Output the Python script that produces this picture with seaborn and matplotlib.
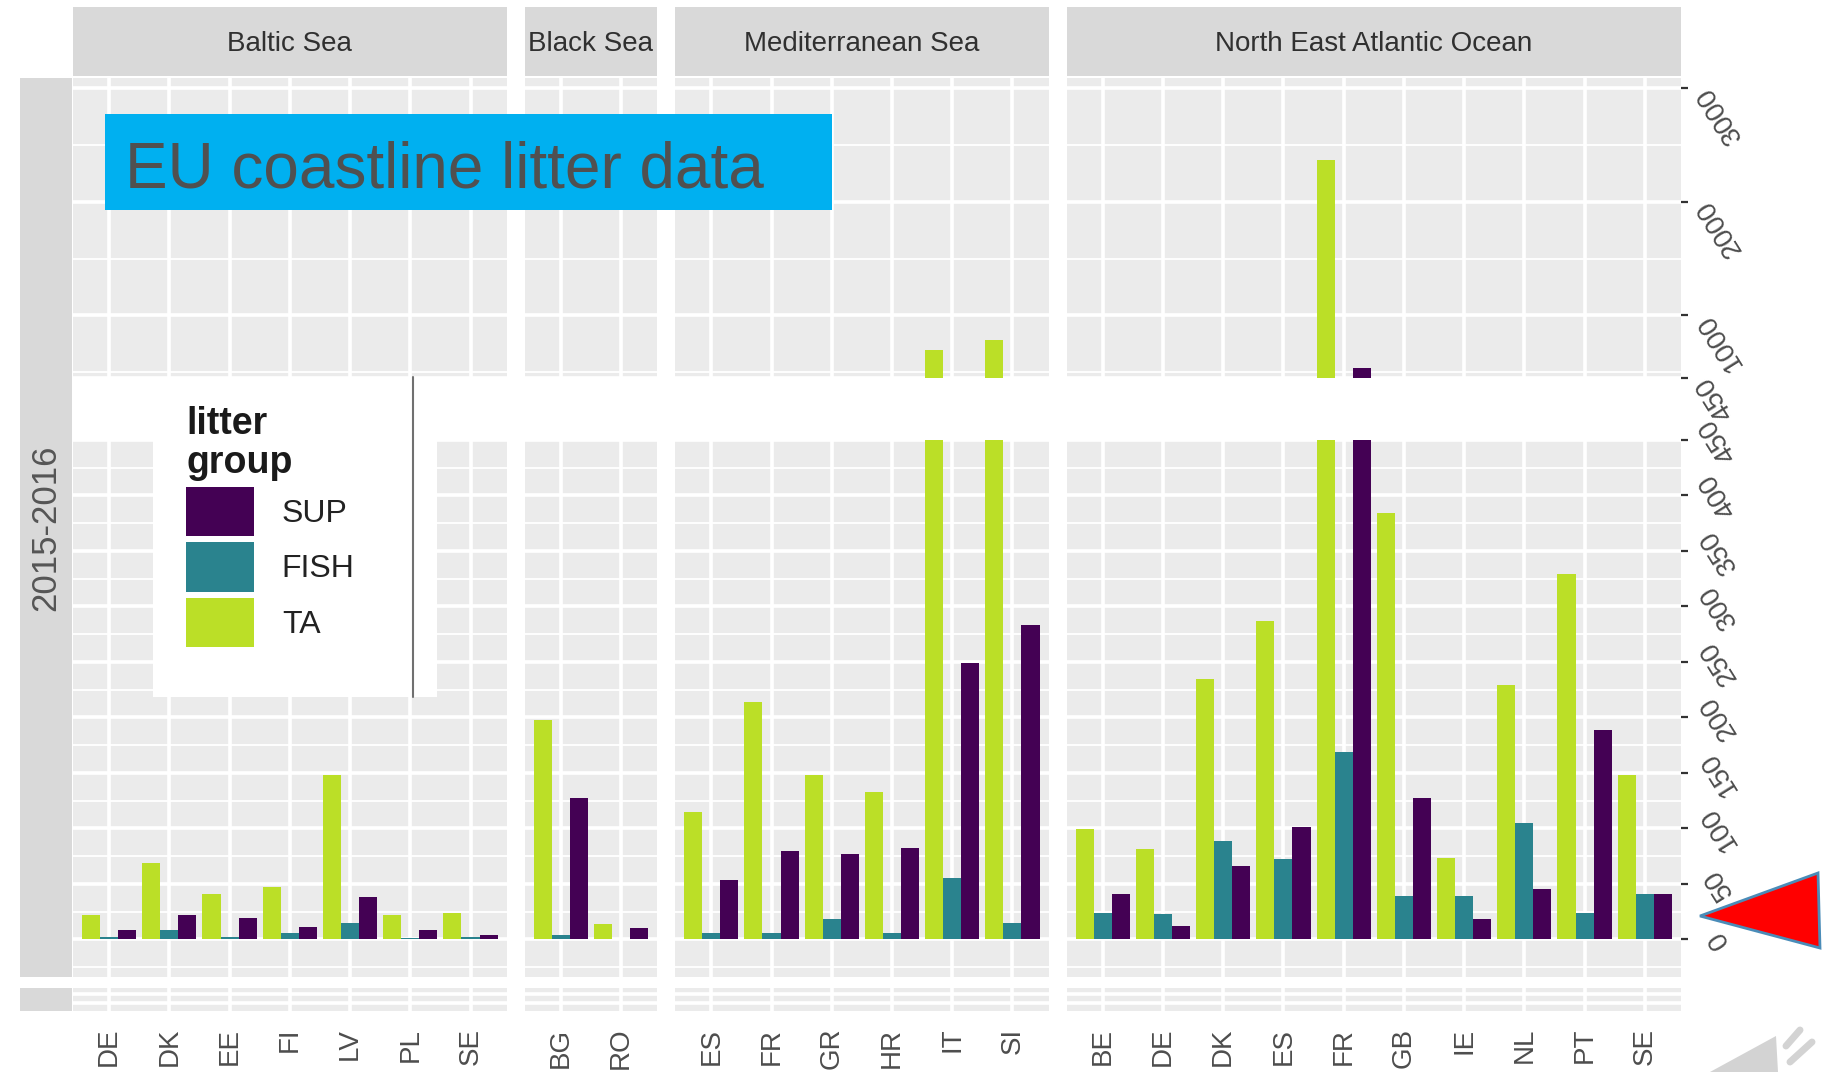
import matplotlib.pyplot as plt
import matplotlib.patches as mpatches
import pandas as pd
import seaborn as sns

# values, one list per sea and litter group
groups = ["TA", "FISH", "SUP"]
legend_order = ["SUP", "FISH", "TA"]
seas = ["Baltic Sea", "Black Sea", "Mediterranean Sea", "North East Atlantic Ocean"]
period = "2015-2016"

baltic_countries = ["DE", "DK", "EE", "FI", "LV", "PL", "SE"]
baltic_ta = [22, 69, 41, 47, 148, 22, 24]
baltic_fish = [2, 8, 2, 6, 15, 1, 2]
baltic_sup = [8, 22, 19, 11, 38, 8, 4]

black_countries = ["BG", "RO"]
black_ta = [198, 14]
black_fish = [4, 0]
black_sup = [127, 10]

med_countries = ["ES", "FR", "GR", "HR", "IT", "SI"]
med_ta = [115, 214, 148, 133, 700, 785]
med_fish = [6, 6, 18, 6, 55, 15]
med_sup = [53, 80, 77, 82, 249, 283]

nea_countries = ["BE", "DE", "DK", "ES", "FR", "GB", "IE", "NL", "PT", "SE"]
nea_ta = [99, 81, 235, 287, 2370, 384, 73, 229, 329, 148]
nea_fish = [24, 23, 89, 72, 169, 39, 39, 105, 24, 41]
nea_sup = [41, 12, 66, 101, 540, 127, 18, 45, 189, 41]

upper_ticks = [450, 1000, 2000, 3000]
lower_ticks = [0, 50, 100, 150, 200, 250, 300, 350, 400, 450]

palette = {"SUP": "#440154", "FISH": "#2A838E", "TA": "#BBDF27"}

sea_data = [
    (seas[0], baltic_countries, baltic_ta, baltic_fish, baltic_sup),
    (seas[1], black_countries, black_ta, black_fish, black_sup),
    (seas[2], med_countries, med_ta, med_fish, med_sup),
    (seas[3], nea_countries, nea_ta, nea_fish, nea_sup),
]

frames = []
for sea, countries, ta, fish, sup in sea_data:
    for g, vals in zip(groups, [ta, fish, sup]):
        frames.append(pd.DataFrame({"sea": sea, "country": countries, "group": g, "value": vals}))
df = pd.concat(frames, ignore_index=True)

sns.set_theme(style="darkgrid", rc={"axes.facecolor": "#EBEBEB", "grid.color": "white"})
plt.rcParams["font.family"] = ["Liberation Sans", "DejaVu Sans"]

W, H = 1823, 1072
fig = plt.figure(figsize=(W / 100, H / 100), dpi=100)


def box(x0, y0, x1, y1):
    # pixel box (top-left origin) -> figure fraction rect
    return [x0 / W, 1 - y1 / H, (x1 - x0) / W, (y1 - y0) / H]


unit, gap, x = 60.23, 18, 73
STRIP = (7, 76)
UPPER = (78, 378)
LOWER = (440, 977)
BAND = (988, 1011)

for i, (sea, countries, ta, fish, sup) in enumerate(sea_data):
    n = len(countries)
    x0, x1 = x, x + (n - 1 + 1.2) * unit
    x = x1 + gap
    last = i == len(sea_data) - 1
    sub = df[df["sea"] == sea]

    ax_st = fig.add_axes(box(x0, STRIP[0], x1, STRIP[1]))
    ax_st.set_facecolor("#D9D9D9")
    ax_st.set_xticks([])
    ax_st.set_yticks([])
    for s in ax_st.spines.values():
        s.set_visible(False)
    ax_st.text(0.5, 0.47, sea, transform=ax_st.transAxes, ha="center", va="center",
               fontsize=20, color="#303030")

    ax_up = fig.add_axes(box(x0, UPPER[0], x1, UPPER[1]))
    ax_lo = fig.add_axes(box(x0, LOWER[0], x1, LOWER[1]))
    ax_bd = fig.add_axes(box(x0, BAND[0], x1, BAND[1]))

    for ax in (ax_up, ax_lo):
        sns.barplot(data=sub, x="country", y="value", hue="group", order=countries,
                    hue_order=groups, palette=palette, width=0.9, saturation=1,
                    linewidth=0, errorbar=None, legend=False, ax=ax)
        ax.set(xlabel="", ylabel="")

    ax_up.set_ylim(450, 3087)
    ax_up.set_yticks([1500, 2500, 500], minor=True)
    ax_lo.set_ylim(-34, 450)
    ax_lo.set_yticks([-25, 25, 75, 125, 175, 225, 275, 325, 375, 425], minor=True)
    ax_bd.set_ylim(0, 1)
    ax_bd.set_yticks([0.35, 0.75])
    ax_bd.tick_params(axis="y", length=0, labelleft=False)

    for ax, ticks, ha, pad in ((ax_up, upper_ticks, "right", 11), (ax_lo, lower_ticks, "center", 22)):
        if last:
            ax.yaxis.tick_right()
            ax.set_yticks(ticks, labels=[str(t) for t in ticks], rotation=122,
                          rotation_mode="anchor", ha=ha, va="center",
                          fontsize=20, color="#4D4D4D")
            ax.tick_params(axis="y", which="major", length=5, width=1.6,
                           color="#333333", pad=pad)
        else:
            ax.set_yticks(ticks)
            ax.tick_params(axis="y", which="major", length=0, labelleft=False)
        ax.tick_params(axis="y", which="minor", length=0)
        ax.grid(True, axis="y", which="minor", color="white", lw=1.3)

    for ax in (ax_up, ax_lo, ax_bd):
        ax.set_xlim(-0.6, n - 0.4)
        ax.set_xticks(range(n))
        ax.grid(True, axis="x", which="major", color="white", lw=2.6)
        ax.grid(True, axis="y", which="major", color="white", lw=2.6)
        ax.set_axisbelow(True)
        for s in ax.spines.values():
            s.set_visible(False)

    for ax in (ax_up, ax_lo):
        ax.tick_params(axis="x", length=0, labelbottom=False)
    ax_bd.set_xticks(range(n), labels=countries, rotation=90, fontsize=20, color="#4D4D4D")
    ax_bd.tick_params(axis="x", length=5, width=1.6, color="#333333", pad=7)

# row strip on the left
ax_row = fig.add_axes(box(20, UPPER[0], 72, LOWER[1]))
ax_row.set_facecolor("#D9D9D9")
ax_row.set_xticks([])
ax_row.set_yticks([])
ax_row.text(0.5, 0.5, period, transform=ax_row.transAxes, rotation=90, ha="center",
            va="center", fontsize=25, color="#555555")
ax_row2 = fig.add_axes(box(20, BAND[0], 72, BAND[1]))
ax_row2.set_facecolor("#D9D9D9")
ax_row2.set_xticks([])
ax_row2.set_yticks([])
for a in (ax_row, ax_row2):
    for s in a.spines.values():
        s.set_visible(False)

# overlay: title banner, legend backdrop, pointer triangle
ov = fig.add_axes([0, 0, 1, 1], zorder=3)
ov.set_xlim(0, W)
ov.set_ylim(H, 0)
ov.axis("off")
ov.add_patch(mpatches.Rectangle((105, 114), 727, 96, color="#00B0F0", lw=0))
ov.text(125, 188, "EU coastline litter data", fontsize=46, color="#505050", va="baseline")
ov.add_patch(mpatches.Rectangle((153, 377), 284, 320, color="white", lw=0))
ov.plot([413, 413], [377, 697], color="#707070", lw=1.5)
ov.add_patch(mpatches.Polygon([(1700, 916), (1818, 873), (1820, 948)], closed=True,
                              facecolor="#FF0000", edgecolor="#4A8CB8", lw=2))
ov.add_patch(mpatches.Polygon([(1710, 1072), (1776, 1036), (1778, 1072)], closed=True,
                              facecolor="#D3D3D3", edgecolor="none"))
ov.plot([1786, 1800], [1046, 1030], color="#D3D3D3", lw=5, solid_capstyle="round")
ov.plot([1790, 1812], [1062, 1042], color="#D3D3D3", lw=5, solid_capstyle="round")

handles = [mpatches.Patch(facecolor=palette[g], edgecolor="none") for g in legend_order]
leg = fig.legend(handles=handles, labels=legend_order, title="litter\ngroup", loc="upper left",
                 bbox_to_anchor=(186 / W, 1 - 406 / H), frameon=False, fontsize=23,
                 title_fontsize=27, handlelength=2.13, handleheight=2.0, handletextpad=0.87,
                 labelspacing=0.19, borderpad=0, borderaxespad=0, alignment="left",
                 labelcolor="#222222")
leg.get_title().set_fontweight("semibold")
leg.get_title().set_color("#1A1A1A")
leg.get_title().set_linespacing(1.1)

fig.savefig("out.png", dpi=100)
